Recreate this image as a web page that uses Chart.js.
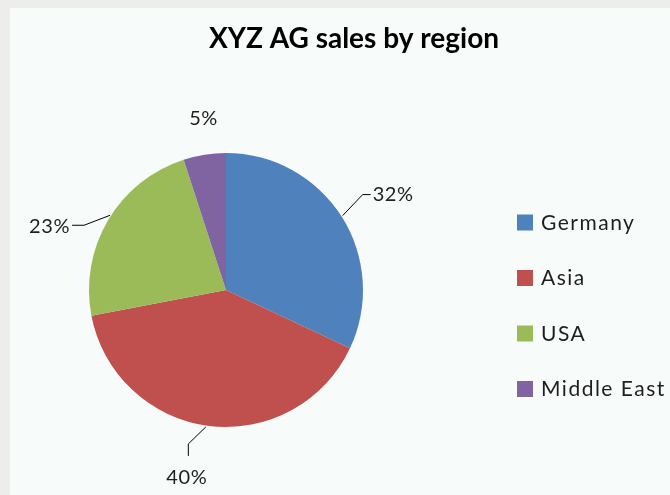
<!DOCTYPE html>
<html lang="en">
<head>
    <meta charset="UTF-8">
    <title>XYZ AG sales by region</title>
    <script src="https://cdn.jsdelivr.net/npm/chart.js"></script>
    <style>
        html, body {
            margin: 0;
            padding: 0;
            background: #ededeb;
        }
        canvas {
            display: block;
        }
    </style>
</head>
<body>
    <canvas id="salesChart" width="670" height="495"></canvas>

    <script>
        // Data
        const regions = ["Germany", "Asia", "USA", "Middle East"];
        const shares = [32, 40, 23, 5];
        const chartTitle = "XYZ AG sales by region";

        const sliceColors = ["#4f81bd", "#c0504d", "#9bbb59", "#8064a2"];

        // label placement relative to the slice's outer edge at mid-angle
        // text: [dx, dy, align], leader: list of [dx, dy] points (empty = no line)
        const labelStyle = [
            { text: [31, -22, "left"], leader: [[1, -1], [21, -22], [29, -22]] },
            { text: [-22, 52, "center"], leader: [[-3, 1], [-20.5, 18], [-20.5, 30]] },
            { text: [-38, 6, "right"], leader: [[2, -5], [-24, 5], [-36, 5]] },
            { text: [-1, -36, "center"], leader: [] }
        ];

        const fontFamily = "Lato, 'Open Sans', sans-serif";

        // frame + background
        const framePlugin = {
            id: "frame",
            beforeDraw(chart) {
                const ctx = chart.ctx;
                ctx.save();
                ctx.fillStyle = "#ededeb";
                ctx.fillRect(0, 0, chart.width, chart.height);
                ctx.fillStyle = "#f7fbf9";
                ctx.fillRect(10, 8, chart.width - 10, chart.height - 8);
                ctx.restore();
            }
        };

        // title, legend and percentage labels
        const decorPlugin = {
            id: "decor",
            afterDraw(chart) {
                const ctx = chart.ctx;
                const meta = chart.getDatasetMeta(0);
                ctx.save();

                // title
                ctx.fillStyle = "#000000";
                ctx.font = "bold 28px " + fontFamily;
                ctx.textAlign = "center";
                ctx.textBaseline = "alphabetic";
                ctx.fillText(chartTitle, 354, 48);

                // legend
                ctx.font = "21px " + fontFamily;
                ctx.letterSpacing = "1.5px";
                ctx.textAlign = "left";
                ctx.textBaseline = "middle";
                regions.forEach((name, i) => {
                    const y = 222 + i * 55.5;
                    ctx.fillStyle = sliceColors[i];
                    ctx.fillRect(517, y - 7.5, 16, 16);
                    ctx.fillStyle = "#1e1e1e";
                    ctx.fillText(name, 541, y + 1);
                });

                // percentage labels with leader lines
                const total = shares.reduce((a, b) => a + b, 0);
                ctx.font = "20px " + fontFamily;
                ctx.letterSpacing = "0.6px";
                ctx.strokeStyle = "#000000";
                ctx.lineWidth = 1;
                meta.data.forEach((arc, i) => {
                    const p = arc.getProps(["x", "y", "startAngle", "endAngle", "outerRadius"], true);
                    const mid = (p.startAngle + p.endAngle) / 2;
                    const ex = p.x + Math.cos(mid) * p.outerRadius;
                    const ey = p.y + Math.sin(mid) * p.outerRadius;
                    const st = labelStyle[i];

                    if (st.leader.length) {
                        ctx.beginPath();
                        st.leader.forEach(([dx, dy], k) => {
                            if (k === 0) ctx.moveTo(ex + dx, ey + dy);
                            else ctx.lineTo(ex + dx, ey + dy);
                        });
                        ctx.stroke();
                    }

                    const pct = Math.round(shares[i] / total * 100) + "%";
                    ctx.fillStyle = "#1e1e1e";
                    ctx.textAlign = st.text[2];
                    ctx.textBaseline = "middle";
                    ctx.fillText(pct, ex + st.text[0], ey + st.text[1]);
                });

                ctx.restore();
            }
        };

        new Chart(document.getElementById("salesChart"), {
            type: "pie",
            data: {
                labels: regions,
                datasets: [{
                    data: shares,
                    backgroundColor: sliceColors,
                    borderWidth: 0
                }]
            },
            options: {
                responsive: false,
                devicePixelRatio: 1,
                animation: false,
                layout: {
                    padding: { left: 89, right: 307, top: 153, bottom: 68 }
                },
                plugins: {
                    legend: { display: false },
                    title: { display: false },
                    tooltip: { enabled: false }
                }
            },
            plugins: [framePlugin, decorPlugin]
        });
    </script>
</body>
</html>
